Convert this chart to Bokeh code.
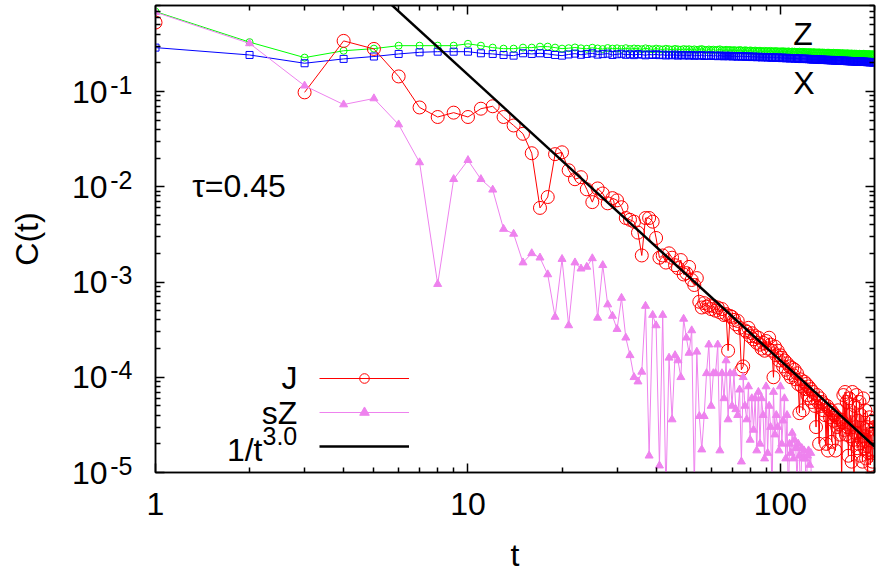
from bokeh.plotting import figure
from bokeh.models import (Range1d, LogAxis, LogScale, FixedTicker, Label, Legend, LegendItem,
                          CustomJSTickFormatter, PrintfTickFormatter)
from bokeh.core.properties import value
from bokeh.embed import file_html
from bokeh.resources import INLINE
import math

NAN = float("nan")

# ---------------- data ----------------
T = list(range(1, 201))

J = [
    0.53, NAN, 0.098, 0.34, 0.28, 0.144, 0.068, 0.054, 0.060, 0.054,
    0.066, 0.070, 0.054, 0.044, 0.036, 0.0225, 0.0060, 0.0078, 0.022, 0.023,
    0.0149, 0.0120, 0.0126, 0.0094, 0.0069, 0.0096, 0.0085, 0.0067, 0.0076, 0.0072,
    0.0061, 0.0047, 0.0045, 0.0043, 0.0033, 0.0019, 0.0047, 0.0047, 0.0043, 0.0029,
    0.0018, 0.0019, 0.0016, 0.0020, 0.0018, 0.0015, 0.0014, 0.0017, 0.0012, 0.00124,
    0.00144, 0.00105, 0.00093, 0.0011, 0.00062, 0.00054, 0.00060, 0.00055, 0.00057, 0.00052,
    0.00056, 0.00050, 0.00054, 0.00048, 0.00052, 0.00045, 0.00046, 0.00019, 0.00044, 0.00043,
    0.00040, 0.00036, 0.00039, 0.00033, 0.00012, 0.00013, 0.00031, 0.00030, 0.00033, 0.00027,
    0.00029, 0.00025, 0.00027, 0.00023, 0.00026, 0.00022, 0.00020, 0.00023, 0.00019, 0.00024,
    0.00020, 0.00026, 0.00022, 0.00019, 0.00010, 0.00021, 0.00017, 0.00019, 0.00015, 0.00017,
    1.6e-4, 1.3e-4, 1.5e-4, 1.2e-4, 1.4e-4, 1.1e-4, 1.3e-4, 1.0e-4, 1.25e-4, 1.05e-4,
    1.2e-4, 9.5e-5, 1.1e-4, 8.5e-5, 4.2e-5, 9.5e-5, 8.0e-5, 4.5e-5, 9.0e-5, 7.5e-5,
    8.5e-5, 6.5e-5, 8.0e-5, 6.0e-5, 7.5e-5, 5.5e-5, 7.0e-5, 6.0e-5, 5.0e-5, 3.0e-5,
    6.5e-5, 5.5e-5, 2.0e-5, 6.0e-5, 5.0e-5, 5.5e-5, 4.5e-5, 5.2e-5, 4.0e-5, 2.0e-5,
    5.0e-5, 1.7e-5, 4.6e-5, 3.8e-5, 4.5e-5, 2.1e-5, 4.2e-5, 3.5e-5, 4.0e-5, 1.7e-5,
    3.8e-5, 3.0e-5, 4.5e-5, 3.2e-5, 2.5e-5, 3.6e-5, 8e-6, 3.4e-5, 6.5e-5, 2.8e-5,
    7.0e-5, 2.5e-5, 5.5e-5, 3.0e-5, 1.5e-5, 6.0e-5, 2.4e-5, 4.0e-5, 1.3e-5, 7.0e-5,
    2.2e-5, 7e-6, 5.0e-5, 2.6e-5, 6.5e-5, 1.8e-5, 3.5e-5, 2.0e-5, 5.5e-5, 1.5e-5,
    4.0e-5, 2.2e-5, 1.3e-5, 6.0e-5, 2.4e-5, 1.8e-5, 4.5e-5, 1.4e-5, 3.0e-5, 8e-6,
    2.8e-5, 1.6e-5, 3.8e-5, 1.2e-5, 2.5e-5, 1.7e-5, 1.3e-5, 3.5e-5, 2.4e-5, 3.0e-5,
]

SZ = [
    0.68, 0.32, 0.115, 0.073, 0.0845, 0.045, 0.018, 0.00095, 0.012, 0.019,
    0.012, 0.0093, 0.0036, 0.0032, 0.0016, 0.0020, 0.0018, 0.0012, 0.00043, 0.00174,
    0.00035, 0.0016, 0.00138, 0.00144, 0.00177, 0.00042, 0.0015, 0.00058, 0.00044, 0.00032,
    0.00068, 0.00026, 0.00017, 0.00010, 0.00009, 0.000114, 0.00056, 0.000015, 0.00045, 0.00035,
    0.0000118, 0.00045, 0.000006, 0.00016, 0.000036, 0.00017, 0.00015, 0.00010, 0.00041, 0.00026,
    0.00018, 0.00031, 0.000007, 0.000185, 0.000039, 0.0000174, 0.000039, 0.00011, 0.00022, 0.00005,
    0.00011, 1.1e-4, 2.2e-4, 1.7e-5, 1.1e-4, 6e-5, 1.5e-4, 3.6e-5, 1.1e-4, 5e-5,
    1.1e-4, 4.6e-5, 4e-5, 7.4e-5, 1.3e-5, 1.0e-4, 5e-5, 3.6e-5, 8e-5, 2.2e-5,
    6e-5, 2.8e-5, 6e-5, 1.7e-5, 7e-5, 2e-5, 6e-5, 4e-5, 1.4e-5, 8e-5,
    1.6e-5, 5e-5, 3e-5, 6e-6, 7e-5, 2.5e-5, 4e-5, 3e-5, 1.7e-5, 8e-5,
    2e-5, 3.5e-5, 6e-5, 1.4e-5, 4e-5, 5e-6, 2e-5, 1.6e-5, 2.6e-5, 1.4e-5,
    2.2e-5, 1.8e-5, 8e-6, 2e-5, 1.5e-5, 5e-6, 1.8e-5, 1.4e-5, 1.7e-5, 1.4e-5,
    6e-6, 1.5e-5, 1.7e-5, 1.2e-5, 1.6e-5, 5e-6,
]

Z = [
    0.69, 0.33, 0.227, 0.268, 0.282, 0.303, 0.303, 0.303, 0.303, 0.317,
    0.303, 0.289, 0.282, 0.282, 0.289, 0.289, 0.296, 0.296, 0.289, 0.282,
    0.285, 0.290, 0.284, 0.281, 0.288, 0.283, 0.279, 0.286, 0.282, 0.284,
    0.280, 0.285, 0.279, 0.283, 0.281, 0.278, 0.284, 0.280, 0.277, 0.282,
    0.279, 0.276, 0.281, 0.278, 0.275, 0.280, 0.277, 0.274, 0.279, 0.276,
    0.278, 0.274, 0.277, 0.273, 0.276, 0.279, 0.274, 0.272, 0.276, 0.273,
    0.275, 0.271, 0.274, 0.277, 0.272, 0.270, 0.274, 0.271, 0.273, 0.269,
    0.272, 0.270, 0.268, 0.273, 0.270, 0.267, 0.271, 0.269, 0.266, 0.270,
    0.268, 0.265, 0.269, 0.267, 0.264, 0.268, 0.266, 0.263, 0.267, 0.265,
    0.266, 0.263, 0.267, 0.264, 0.262, 0.266, 0.263, 0.265, 0.261, 0.264,
    0.262, 0.265, 0.261, 0.263, 0.260, 0.264, 0.261, 0.259, 0.263, 0.260,
    0.262, 0.259, 0.261, 0.258, 0.262, 0.259, 0.257, 0.261, 0.258, 0.260,
    0.257, 0.259, 0.256, 0.260, 0.257, 0.255, 0.259, 0.256, 0.258, 0.255,
    0.257, 0.254, 0.258, 0.255, 0.253, 0.257, 0.254, 0.256, 0.253, 0.255,
    0.252, 0.256, 0.253, 0.255, 0.252, 0.254, 0.251, 0.255, 0.252, 0.253,
    0.251, 0.254, 0.250, 0.253, 0.251, 0.249, 0.253, 0.250, 0.252, 0.249,
    0.251, 0.248, 0.252, 0.249, 0.251, 0.248, 0.250, 0.247, 0.251, 0.248,
    0.249, 0.247, 0.250, 0.246, 0.249, 0.247, 0.248, 0.246, 0.249, 0.246,
    0.248, 0.245, 0.247, 0.249, 0.246, 0.248, 0.245, 0.247, 0.244, 0.247,
    0.245, 0.247, 0.244, 0.246, 0.243, 0.246, 0.244, 0.245, 0.243, 0.245,
]

X = [
    0.289, 0.242, 0.198, 0.220, 0.233, 0.248, 0.258, 0.262, 0.262, 0.262,
    0.252, 0.248, 0.242, 0.238, 0.252, 0.248, 0.252, 0.248, 0.242, 0.238,
    0.245, 0.250, 0.243, 0.248, 0.252, 0.244, 0.247, 0.250, 0.242, 0.246,
    0.249, 0.243, 0.246, 0.241, 0.247, 0.244, 0.240, 0.245, 0.242, 0.246,
    0.241, 0.244, 0.239, 0.243, 0.240, 0.244, 0.238, 0.242, 0.239, 0.241,
    0.238, 0.242, 0.237, 0.240, 0.238, 0.241, 0.236, 0.239, 0.237, 0.240,
    0.236, 0.238, 0.235, 0.239, 0.236, 0.234, 0.238, 0.235, 0.237, 0.233,
    0.236, 0.234, 0.232, 0.236, 0.233, 0.235, 0.231, 0.234, 0.232, 0.233,
    0.230, 0.233, 0.231, 0.229, 0.232, 0.230, 0.228, 0.231, 0.229, 0.230,
    0.227, 0.230, 0.228, 0.226, 0.229, 0.227, 0.225, 0.228, 0.226, 0.227,
    0.224, 0.227, 0.225, 0.223, 0.226, 0.224, 0.222, 0.225, 0.223, 0.224,
    0.221, 0.224, 0.222, 0.220, 0.223, 0.221, 0.219, 0.222, 0.220, 0.221,
    0.219, 0.221, 0.218, 0.220, 0.217, 0.219, 0.216, 0.219, 0.217, 0.218,
    0.216, 0.218, 0.215, 0.217, 0.214, 0.217, 0.215, 0.216, 0.214, 0.216,
    0.213, 0.215, 0.213, 0.214, 0.212, 0.215, 0.212, 0.214, 0.211, 0.213,
    0.211, 0.213, 0.210, 0.212, 0.210, 0.212, 0.209, 0.211, 0.209, 0.211,
    0.209, 0.211, 0.208, 0.210, 0.208, 0.210, 0.207, 0.209, 0.207, 0.209,
    0.207, 0.209, 0.206, 0.208, 0.206, 0.208, 0.205, 0.207, 0.206, 0.207,
    0.205, 0.207, 0.204, 0.206, 0.205, 0.206, 0.204, 0.205, 0.203, 0.205,
    0.203, 0.205, 0.202, 0.204, 0.203, 0.204, 0.202, 0.203, 0.201, 0.203,
]

# fit 1/t^3.0 (amplitude, exponent)
FIT_A = 150.0
FIT_P = 3.0
FIT_T = [1.0, 200.0]
FIT_C = [FIT_A / t ** FIT_P for t in FIT_T]

X_TICKS = [1, 10, 100]
X_MINOR = [2, 3, 4, 5, 6, 7, 8, 9, 20, 30, 40, 50, 60, 70, 80, 90, 200]
Y_EXPONENTS = [-1, -2, -3, -4, -5]
Y_TICKS = [10.0 ** e for e in Y_EXPONENTS]
Y_MINOR = [k * 10.0 ** e for e in range(-5, 0) for k in range(2, 10)]

X_LO, X_HI = 1, 200
Y_LO, Y_HI = 1e-5, 0.8

FONT = "Liberation Sans"
RED, VIOLET, GREEN, BLUE = "#ff0000", "#ee82ee", "#00ff00", "#0000ff"
FRAME_W = 1.5

# ---------------- figure ----------------
W, H = 886, 575
B_LEFT, B_RIGHT, B_TOP, B_BOTTOM = 155, 12, 5, 102
p = figure(width=W, height=H, x_axis_type="log", y_axis_type="log",
           x_range=Range1d(X_LO, X_HI), y_range=Range1d(Y_LO, Y_HI),
           output_backend="svg", toolbar_location=None,
           min_border_left=B_LEFT, min_border_right=B_RIGHT, min_border_top=B_TOP,
           min_border_bottom=B_BOTTOM)
p.grid.visible = False
p.outline_line_color = "#000000"
p.outline_line_width = FRAME_W
p.outline_line_alpha = 1.0
p.background_fill_color = "white"
p.border_fill_color = "white"

# exponent of the y tick labels is raised a few pixels above the "10"
frame_h = H - B_TOP - B_BOTTOM
px_per_dec = frame_h / math.log10(Y_HI / Y_LO)
c_exp = 10 ** (-7.0 / px_per_dec)
p.extra_y_ranges = {"exp": Range1d(Y_LO * c_exp, Y_HI * c_exp)}
p.extra_y_scales = {"exp": LogScale()}

xt = FixedTicker(ticks=X_TICKS, minor_ticks=X_MINOR)
yt = FixedTicker(ticks=Y_TICKS, minor_ticks=Y_MINOR)


def blank():
    return CustomJSTickFormatter(code="return ''")


def style_axis(ax, size="32px"):
    ax.major_tick_in = 9
    ax.major_tick_out = 0
    ax.minor_tick_in = 5
    ax.minor_tick_out = 0
    ax.axis_line_color = "#000000"
    ax.axis_line_width = FRAME_W
    ax.major_tick_line_color = "#000000"
    ax.minor_tick_line_color = "#000000"
    ax.major_tick_line_width = FRAME_W
    ax.minor_tick_line_width = FRAME_W
    ax.major_label_text_font = FONT
    ax.major_label_text_font_size = size
    ax.major_label_text_color = "black"
    ax.axis_label_text_font = FONT
    ax.axis_label_text_font_size = "32px"
    ax.axis_label_text_font_style = "normal"
    ax.axis_label_text_color = "black"


def label_only(ax):
    ax.major_tick_line_color = None
    ax.minor_tick_line_color = None
    ax.axis_line_color = None


xa = p.xaxis[0]
xa.ticker = xt
xa.formatter = PrintfTickFormatter(format="%d")
style_axis(xa)
xa.major_label_standoff = 20
xa.axis_label = "t"
xa.axis_label_standoff = 19

ya = p.yaxis[0]
ya.ticker = yt
ya.formatter = blank()
style_axis(ya)
ya.major_label_standoff = 0

# exponent labels (-1 ... -5)
y_exp = LogAxis(y_range_name="exp", ticker=FixedTicker(ticks=Y_TICKS),
                formatter=CustomJSTickFormatter(code="return String(Math.round(Math.log10(tick)))"))
style_axis(y_exp, size="25px")
label_only(y_exp)
y_exp.major_label_standoff = 23
p.add_layout(y_exp, "left")

# base labels "10"
y_base = LogAxis(ticker=FixedTicker(ticks=Y_TICKS),
                 formatter=CustomJSTickFormatter(code="return '10'"))
style_axis(y_base)
label_only(y_base)
y_base.major_label_standoff = 0
y_base.axis_label = "C(t)"
y_base.axis_label_standoff = 24
p.add_layout(y_base, "left")

top = LogAxis(ticker=xt, formatter=blank())
style_axis(top)
top.major_label_standoff = 0
p.add_layout(top, "above")
right = LogAxis(ticker=yt, formatter=blank())
style_axis(right)
right.major_label_standoff = 0
p.add_layout(right, "right")

# ---------------- data renderers ----------------
p.line(T, Z, line_color=GREEN, line_width=1)
p.scatter(T, Z, marker="circle", size=7, fill_color=None, line_color=GREEN, line_width=1)
p.line(T, X, line_color=BLUE, line_width=1)
p.scatter(T, X, marker="square", size=7, fill_color=None, line_color=BLUE, line_width=1)

j_line = p.line(T, J, line_color=RED, line_width=1)
j_pts = p.scatter(T, J, marker="circle", size=13, fill_color=None, line_color=RED, line_width=1)

TS = T[:len(SZ)]
sz_line = p.line(TS, SZ, line_color=VIOLET, line_width=1)
sz_pts = p.scatter(TS, SZ, marker="triangle", size=8, fill_color=VIOLET, line_color=VIOLET)

fit_line = p.line(FIT_T, FIT_C, line_color="black", line_width=2.5)


# ---------------- annotations ----------------
def txt(x, y, s, align="left", size=32):
    p.add_layout(Label(x=x, y=y, text=s, text_align=align, text_baseline="alphabetic",
                       y_offset=round(0.36 * size),
                       text_font=FONT, text_font_size=f"{size}px", text_color="black"))


txt(110, 0.30, "Z")
txt(110, 0.091, "X")
txt(1.31, 0.0077, "τ=0.45")

# legend (labels on the left of the samples, gnuplot style)
txt(2.845, 7.4e-5, "J", align="right")
txt(2.845, 3.18e-5, "sZ", align="right")
txt(2.2, 1.30e-5, "1/t", align="right")
txt(2.2, 1.96e-5, "3.0", align="left", size=25)

legend = Legend(items=[
    LegendItem(label=value(" "), renderers=[j_line, j_pts]),
    LegendItem(label=value(" "), renderers=[sz_line, sz_pts]),
    LegendItem(label=value(" "), renderers=[fit_line]),
], location=(164, 14), glyph_width=90, glyph_height=24, label_height=24,
    label_width=0, label_standoff=0, spacing=10, padding=0, margin=0,
    border_line_alpha=0, background_fill_alpha=0, label_text_font_size="10px")
p.add_layout(legend)

open("out.html", "w").write(file_html(p, INLINE))
